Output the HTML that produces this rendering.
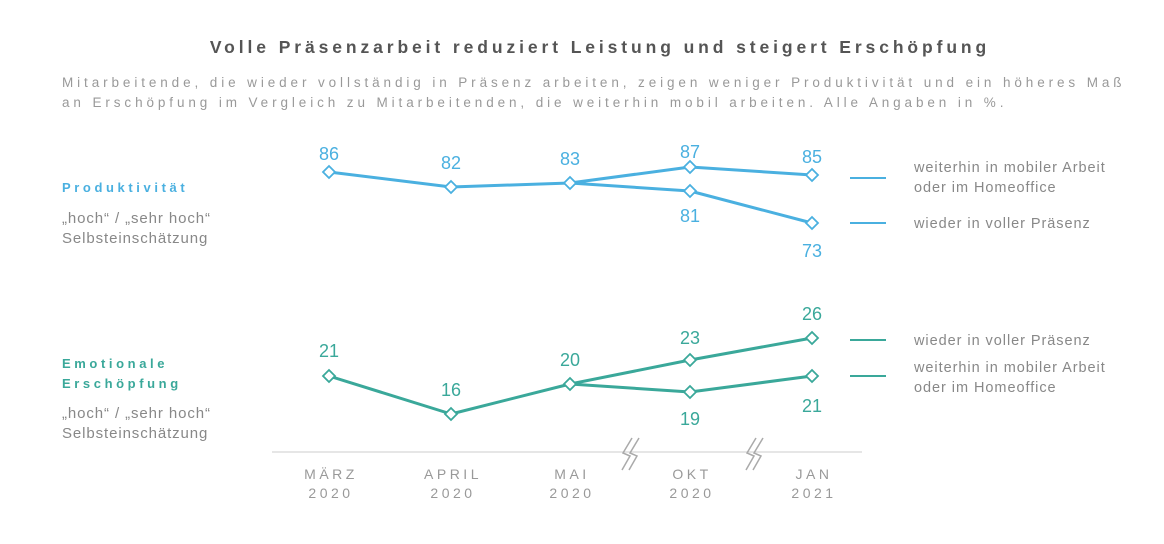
<!DOCTYPE html>
<html><head><meta charset="utf-8"><style>
body{margin:0;background:#fff;}
svg{display:block;font-family:"Liberation Sans",sans-serif;}
</style></head><body>
<svg width="1164" height="544" viewBox="0 0 1164 544">
<text x="600" y="53" text-anchor="middle" font-size="17.5" font-weight="bold" fill="#555" letter-spacing="3.9">Volle Präsenzarbeit reduziert Leistung und steigert Erschöpfung</text>
<text x="62" y="87" font-size="13.5" fill="#999" letter-spacing="3.9">Mitarbeitende, die wieder vollständig in Präsenz arbeiten, zeigen weniger Produktivität und ein höheres Maß</text>
<text x="62" y="107" font-size="13.5" fill="#999" letter-spacing="3.9">an Erschöpfung im Vergleich zu Mitarbeitenden, die weiterhin mobil arbeiten. Alle Angaben in %.</text>

<text x="62" y="192" font-size="13" font-weight="bold" fill="#4ab0e0" letter-spacing="3.6">Produktivität</text>
<text x="62" y="223" font-size="15" fill="#888" letter-spacing="0.9">„hoch“ / „sehr hoch“</text>
<text x="62" y="243" font-size="15" fill="#888" letter-spacing="0.9">Selbsteinschätzung</text>
<text x="62" y="368" font-size="13" font-weight="bold" fill="#3aa89a" letter-spacing="3.6">Emotionale</text>
<text x="62" y="388" font-size="13" font-weight="bold" fill="#3aa89a" letter-spacing="3.6">Erschöpfung</text>
<text x="62" y="418" font-size="15" fill="#888" letter-spacing="0.9">„hoch“ / „sehr hoch“</text>
<text x="62" y="438" font-size="15" fill="#888" letter-spacing="0.9">Selbsteinschätzung</text>

<g fill="none" stroke-width="3" stroke-linejoin="round">
<polyline stroke="#4ab0e0" points="329,172 451,187 570,183 690,167 812,175"/>
<polyline stroke="#4ab0e0" points="570,183 690,191 812,223"/>
<polyline stroke="#3aa89a" points="329,376 451,414 570,384 690,360 812,338"/>
<polyline stroke="#3aa89a" points="570,384 690,392 812,376"/>
</g>
<g fill="#fff" stroke-width="1.8">
<g stroke="#4ab0e0">
<path d="M329,166l6,6-6,6-6-6z"/><path d="M451,181l6,6-6,6-6-6z"/><path d="M570,177l6,6-6,6-6-6z"/><path d="M690,161l6,6-6,6-6-6z"/><path d="M812,169l6,6-6,6-6-6z"/><path d="M690,185l6,6-6,6-6-6z"/><path d="M812,217l6,6-6,6-6-6z"/>
</g>
<g stroke="#3aa89a">
<path d="M329,370l6,6-6,6-6-6z"/><path d="M451,408l6,6-6,6-6-6z"/><path d="M570,378l6,6-6,6-6-6z"/><path d="M690,354l6,6-6,6-6-6z"/><path d="M812,332l6,6-6,6-6-6z"/><path d="M690,386l6,6-6,6-6-6z"/><path d="M812,370l6,6-6,6-6-6z"/>
</g>
</g>
<g font-size="18" text-anchor="middle" fill="#4ab0e0">
<text x="329" y="160">86</text><text x="451" y="169">82</text><text x="570" y="165">83</text><text x="690" y="158">87</text><text x="812" y="163">85</text><text x="690" y="222">81</text><text x="812" y="257">73</text>
</g>
<g font-size="18" text-anchor="middle" fill="#3aa89a">
<text x="329" y="357">21</text><text x="451" y="396">16</text><text x="570" y="366">20</text><text x="690" y="344">23</text><text x="812" y="320">26</text><text x="690" y="425">19</text><text x="812" y="412">21</text>
</g>
<line x1="850" y1="178" x2="886" y2="178" stroke="#4ab0e0" stroke-width="2"/>
<line x1="850" y1="223" x2="886" y2="223" stroke="#4ab0e0" stroke-width="2"/>
<line x1="850" y1="340" x2="886" y2="340" stroke="#3aa89a" stroke-width="2"/>
<line x1="850" y1="376" x2="886" y2="376" stroke="#3aa89a" stroke-width="2"/>
<g font-size="14.5" fill="#888" letter-spacing="0.95">
<text x="914" y="172">weiterhin in mobiler Arbeit</text><text x="914" y="192">oder im Homeoffice</text>
<text x="914" y="228">wieder in voller Präsenz</text>
<text x="914" y="345">wieder in voller Präsenz</text>
<text x="914" y="372">weiterhin in mobiler Arbeit</text><text x="914" y="392">oder im Homeoffice</text>
</g>
<line x1="272" y1="452" x2="862" y2="452" stroke="#ddd" stroke-width="1.5"/>
<g stroke="#aaa" stroke-width="1.5" fill="none">
<path d="M632,438l-9,15 7,3 -8,14"/><path d="M639,438l-9,15 7,3 -8,14"/>
<path d="M756,438l-9,15 7,3 -8,14"/><path d="M763,438l-9,15 7,3 -8,14"/>
</g>
<g font-size="14" fill="#999" text-anchor="middle" letter-spacing="3.5">
<text x="331" y="479">MÄRZ</text><text x="331" y="498">2020</text>
<text x="453" y="479">APRIL</text><text x="453" y="498">2020</text>
<text x="572" y="479">MAI</text><text x="572" y="498">2020</text>
<text x="692" y="479">OKT</text><text x="692" y="498">2020</text>
<text x="814" y="479">JAN</text><text x="814" y="498">2021</text>
</g>
</svg>
</body></html>
